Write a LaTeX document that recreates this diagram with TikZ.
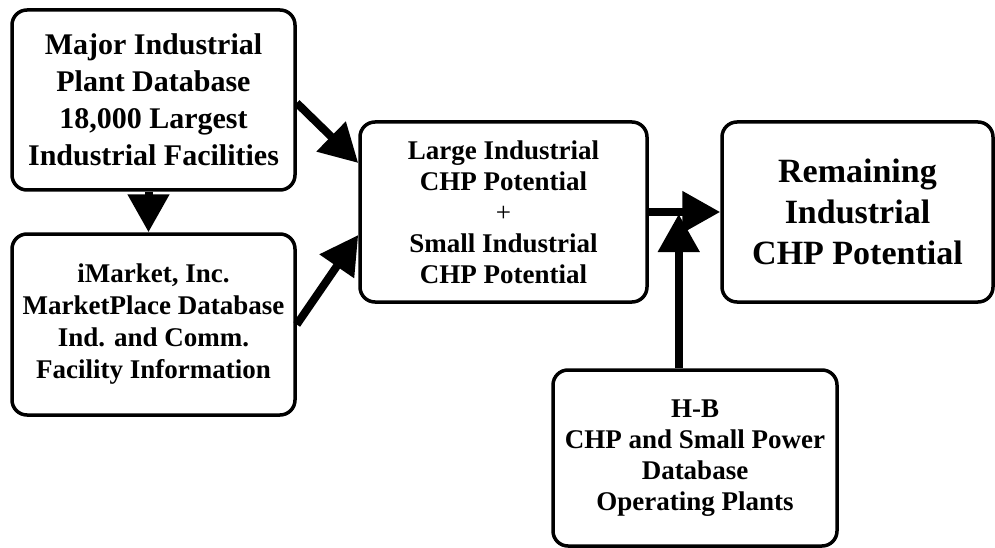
\documentclass[tikz,border=0pt]{standalone}
\usepackage{fontspec}
\setmainfont{Liberation Serif}
\usetikzlibrary{arrows.meta}
\begin{document}
\begin{tikzpicture}[x=1pt,y=-1pt,
  box/.style={draw, line width=3.5pt, rounded corners=15pt, inner sep=0pt,
    align=center, fill=white},
  arr/.style={line width=8pt, -{Triangle[length=38pt 0 0, width=40pt 0 0]}}]
\useasboundingbox (0,0) rectangle (995,548);

% source databases
\node[box, minimum width=283pt, minimum height=180pt,
  font=\fontsize{30}{37}\selectfont\bfseries] (A) at (153.5,100)
  {Major Industrial\\Plant Database\\18,000 Largest\\Industrial Facilities};
\node[box, minimum width=283pt, minimum height=181pt,
  font=\fontsize{27}{32}\selectfont\bfseries] (B) at (153.5,324.5)
  {iMarket, Inc.\\MarketPlace Database\\Ind. and Comm.\\Facility Information};

% combined potential
\node[box, minimum width=287pt, minimum height=180pt,
  font=\fontsize{27}{31}\selectfont\bfseries] (C) at (503.5,212)
  {Large Industrial\\CHP Potential\\{\mdseries +}\\Small Industrial\\CHP Potential};

% result
\node[box, minimum width=271pt, minimum height=180pt,
  font=\fontsize{34}{41}\selectfont\bfseries] (D) at (857.5,212)
  {Remaining\\Industrial\\CHP Potential};

% operating plants
\node[box, minimum width=284pt, minimum height=176pt,
  font=\fontsize{27}{31}\selectfont\bfseries] (E) at (695,458)
  {H-B\\CHP and Small Power\\Database\\Operating Plants};

\coordinate (J) at ([xshift=30pt]C.east);

% connectors
\draw[arr] ([xshift=-5pt]A.south) -- ([xshift=-5pt]B.north);
\draw[arr] ([yshift=-3pt]A.east) -- ([yshift=49pt]C.west);
\draw[arr] (B.east) -- ([yshift=-23pt]C.west);
\draw[arr] (C.east) -- (D.west);
\draw[arr] (E.north -| J) -- ([yshift=-2pt]J);
\end{tikzpicture}
\end{document}
